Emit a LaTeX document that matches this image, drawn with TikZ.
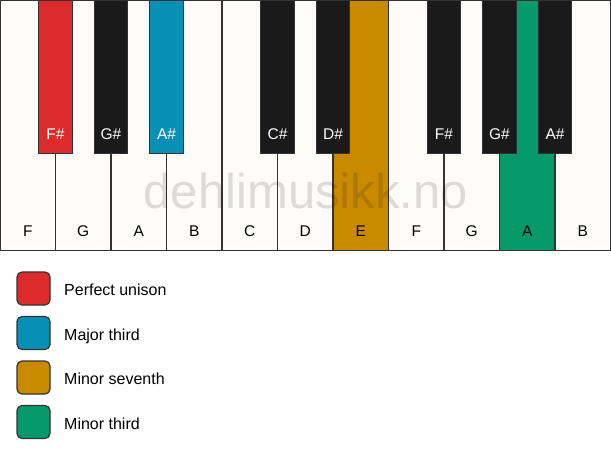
\documentclass[tikz,border=0pt]{standalone}
\usepackage{fontspec}
\setmainfont{Liberation Sans}
\usetikzlibrary{positioning}
\definecolor{keyred}{HTML}{DD2A2A}
\definecolor{keyblue}{HTML}{088FB5}
\definecolor{keyorange}{HTML}{C98A00}
\definecolor{keygreen}{HTML}{06996A}
\definecolor{keyblack}{HTML}{1A1A1A}
\definecolor{keywhite}{HTML}{FDFCF9}
\definecolor{keyline}{HTML}{333333}
\tikzset{
	key/.style = {rectangle, inner sep=0pt, anchor=north, draw=keyline,
		line width=1.2pt, font=\fontsize{15.5}{18}\selectfont, text depth=14.5pt},
	wkey/.style = {key, fill=keywhite, minimum width=55.5pt,
		text height=235.5pt},% white key
	bkey/.style = {key, fill=keyblack, text=white, minimum width=33.5pt,
		text height=138.5pt},% black key
	lbox/.style = {rectangle, rounded corners=5pt, draw=keyline,
		line width=1.2pt, minimum size=33pt, inner sep=0pt},% legend box
	ltext/.style = {inner sep=0pt, anchor=west, text height=14.4pt,
		text depth=0pt, font=\fontsize{16}{19}\selectfont}% legend text
}
\begin{document}
\begin{tikzpicture}[x=1pt,y=-1pt]
	\useasboundingbox[fill=white] (0,0) rectangle (611,461);
	% white keys
	\node[wkey] (wF1) at (27.75,0) {F};
	\node[wkey] (wG1) at (83.25,0) {G};
	\node[wkey] (wA1) at (138.75,0) {A};
	\node[wkey] (wB1) at (194.25,0) {B};
	\node[wkey] (wC) at (249.75,0) {C};
	\node[wkey] (wD) at (305.25,0) {D};
	\node[wkey, fill=keyorange] (wE) at (360.75,0) {E};
	\node[wkey] (wF2) at (416.25,0) {F};
	\node[wkey] (wG2) at (471.75,0) {G};
	\node[wkey, fill=keygreen] (wA2) at (527.25,0) {A};
	\node[wkey] (wB2) at (582.75,0) {B};
	% watermark
	\node[anchor=base, inner sep=0pt, text=black, opacity=0.13,
		font=\fontsize{49}{55}\selectfont] (mark) at (305.8,208.3) {dehlimusikk.no};
	% black keys
	\node[bkey, fill=keyred] (bFs1) at (55.5,0) {F\#};
	\node[bkey] (bGs1) at (111,0) {G\#};
	\node[bkey, fill=keyblue] (bAs1) at (166.5,0) {A\#};
	\node[bkey] (bCs) at (277.5,0) {C\#};
	\node[bkey] (bDs) at (333,0) {D\#};
	\node[bkey] (bFs2) at (444,0) {F\#};
	\node[bkey] (bGs2) at (499.5,0) {G\#};
	\node[bkey] (bAs2) at (555,0) {A\#};
	% legend
	\node[lbox, fill=keyred] (lunison) at (33.5,288.5) {};
	\node[lbox, fill=keyblue, below=10.3pt of lunison] (lmajor) {};
	\node[lbox, fill=keyorange, below=10.3pt of lmajor] (lseventh) {};
	\node[lbox, fill=keygreen, below=10.3pt of lseventh] (lminor) {};
	\node[ltext, right=13.4pt of lunison] (tunison) {Perfect unison};
	\node[ltext, right=13.4pt of lmajor] (tmajor) {Major third};
	\node[ltext, right=13.4pt of lseventh] (tseventh) {Minor seventh};
	\node[ltext, right=13.4pt of lminor] (tminor) {Minor third};
\end{tikzpicture}
\end{document}
